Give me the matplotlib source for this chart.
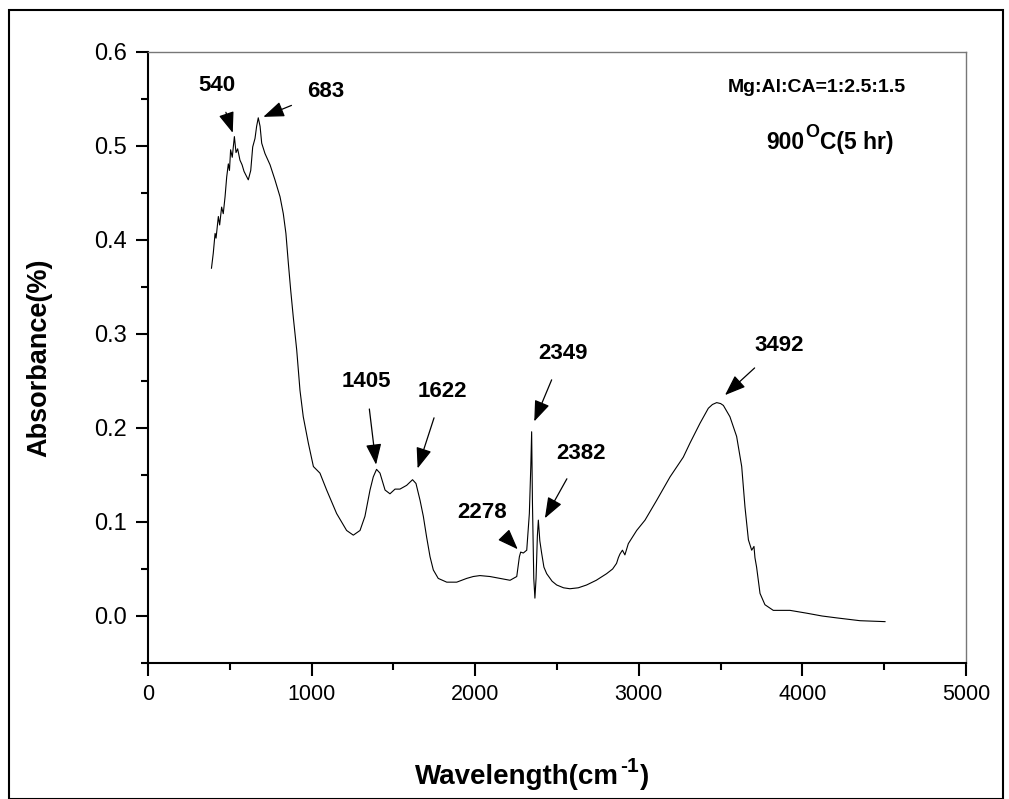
import matplotlib
matplotlib.use("Agg")
import matplotlib.pyplot as plt
from matplotlib.ticker import MultipleLocator, FormatStrFormatter
from matplotlib.patches import Rectangle

plt.rcParams['font.family'] = ['Liberation Sans', 'DejaVu Sans']
plt.rcParams['mathtext.fontset'] = 'custom'
plt.rcParams['mathtext.rm'] = 'Liberation Sans:bold'
plt.rcParams['mathtext.bf'] = 'Liberation Sans:bold'

# Spectrum (wavenumber, absorbance)
wavenumber = [388, 399, 410, 416, 430, 438, 450, 460, 471, 481, 491, 498, 505, 515, 528,
              538, 548, 562, 575, 587, 613, 628, 640, 654, 664, 674, 685, 695, 715, 746,
              776, 807, 827, 843, 858, 872, 888, 909, 929, 949, 980, 1011, 1051, 1092,
              1153, 1214, 1255, 1296, 1326, 1357, 1377, 1397, 1418, 1449, 1479, 1510,
              1540, 1560, 1581, 1617, 1638, 1663, 1683, 1703, 1724, 1744, 1774, 1826,
              1887, 1948, 1988, 2029, 2090, 2150, 2213, 2254, 2270, 2278, 2294, 2315,
              2331, 2340, 2345, 2350, 2358, 2365, 2372, 2380, 2386, 2395, 2406, 2420,
              2437, 2470, 2498, 2540, 2579, 2630, 2681, 2740, 2803, 2840, 2864, 2875,
              2885, 2900, 2915, 2936, 2987, 3038, 3109, 3191, 3272, 3313, 3374, 3425,
              3450, 3476, 3500, 3517, 3557, 3598, 3629, 3649, 3670, 3690, 3704, 3710,
              3720, 3741, 3771, 3822, 3880, 3924, 4026, 4120, 4209, 4352, 4505]
absorbance = [0.370, 0.386, 0.407, 0.402, 0.425, 0.416, 0.435, 0.428, 0.446, 0.467, 0.481,
              0.474, 0.496, 0.488, 0.510, 0.493, 0.497, 0.485, 0.480, 0.473, 0.464, 0.474,
              0.499, 0.508, 0.521, 0.530, 0.521, 0.503, 0.492, 0.480, 0.464, 0.446, 0.428,
              0.407, 0.375, 0.347, 0.318, 0.283, 0.240, 0.212, 0.184, 0.159, 0.152, 0.134,
              0.109, 0.091, 0.086, 0.091, 0.106, 0.134, 0.148, 0.156, 0.152, 0.134, 0.130,
              0.135, 0.135, 0.137, 0.139, 0.145, 0.141, 0.123, 0.106, 0.084, 0.063, 0.049,
              0.040, 0.036, 0.036, 0.040, 0.042, 0.043, 0.042, 0.040, 0.038, 0.042, 0.063,
              0.068, 0.067, 0.070, 0.109, 0.160, 0.196, 0.120, 0.040, 0.019, 0.040, 0.085,
              0.102, 0.080, 0.067, 0.052, 0.045, 0.037, 0.033, 0.030, 0.029, 0.030, 0.033,
              0.038, 0.045, 0.050, 0.056, 0.062, 0.066, 0.070, 0.065, 0.077, 0.091, 0.102,
              0.123, 0.148, 0.169, 0.184, 0.205, 0.221, 0.225, 0.227, 0.226, 0.224, 0.212,
              0.191, 0.159, 0.116, 0.081, 0.070, 0.074, 0.062, 0.052, 0.024, 0.012, 0.006,
              0.006, 0.006, 0.003, 0.000, -0.002, -0.005, -0.006]

# Peak annotations: label, text position, arrow tip
peak_labels = ['540', '683', '1405', '1622', '2278', '2349', '2382', '3492']
label_xy = [(422, 0.564), (1086, 0.558), (1333, 0.249), (1801, 0.239),
            (2043, 0.110), (2534, 0.279), (2647, 0.173), (3859, 0.288)]
arrow_tip = [(518, 0.514), (705, 0.531), (1394, 0.161), (1648, 0.157),
             (2260, 0.071), (2361, 0.207), (2426, 0.104), (3527, 0.235)]

W, H = 1009, 799
fig = plt.figure(figsize=(W / 100, H / 100), dpi=100)
fig.patches.append(Rectangle((9 / W, 0.0), 994 / W, 1 - 10 / H, transform=fig.transFigure,
                             fill=False, edgecolor='black', linewidth=1.5))
ax = fig.add_axes([148 / W, 1 - 663 / H, 818 / W, 611 / H])

ax.plot(wavenumber, absorbance, color='black', linewidth=0.8)

ax.set_xlim(0, 5000)
ax.set_ylim(-0.05, 0.6)
ax.xaxis.set_major_locator(MultipleLocator(1000))
ax.xaxis.set_minor_locator(MultipleLocator(500))
ax.yaxis.set_major_locator(MultipleLocator(0.1))
ax.yaxis.set_minor_locator(MultipleLocator(0.05))
ax.yaxis.set_major_formatter(FormatStrFormatter('%.1f'))

for side in ['left', 'bottom']:
    ax.spines[side].set_linewidth(1.5)
for side in ['top', 'right']:
    ax.spines[side].set_linewidth(1.0)
    ax.spines[side].set_color('#777777')
ax.tick_params(which='major', direction='out', length=9, width=1.5, pad=6)
ax.tick_params(which='minor', direction='out', length=5, width=1.5)
ax.tick_params(top=False, right=False, which='both')
for t in ax.get_yticklabels():
    t.set_fontsize(17)
for t in ax.get_xticklabels():
    t.set_fontsize(15.5)

ax.set_ylabel('Absorbance(%)', fontsize=19.5, fontweight='bold', labelpad=30)

# x-axis label built from pieces: plain hyphen in the superscript, as in the original
t1 = fig.text(415 / W, 1 - 784 / H, 'Wavelength(cm', fontsize=20, fontweight='bold',
              ha='left', va='baseline')
sup = ax.annotate('-1', xy=(1, 1), xycoords=t1, xytext=(1, -2), textcoords='offset points',
                  fontsize=15, fontweight='bold', ha='left', va='center',
                  annotation_clip=False)
ax.annotate(')', xy=(1, 0), xycoords=(sup, t1), xytext=(0.5, 0), textcoords='offset points',
            fontsize=20, fontweight='bold', ha='left', va='bottom', annotation_clip=False)

for lab, (tx, ty), (px, py) in zip(peak_labels, label_xy, arrow_tip):
    ax.annotate(lab, xy=(px, py), xytext=(tx, ty), fontsize=16, fontweight='bold',
                ha='center', va='center',
                arrowprops=dict(arrowstyle='-|>,head_length=0.8,head_width=0.3',
                                color='black', lw=0.9, shrinkA=10, shrinkB=0))

ax.text(4089, 0.562, 'Mg:Al:CA=1:2.5:1.5', fontsize=14, fontweight='bold',
        ha='center', va='center')
t9 = ax.text(3778, 0.497, '900', fontsize=16.5, fontweight='bold', ha='left', va='baseline')
so = ax.annotate('O', xy=(1, 1), xycoords=t9, xytext=(0.5, -1), textcoords='offset points',
                 fontsize=13, fontweight='bold', ha='left', va='center')
ax.annotate('C(5 hr)', xy=(1, 0), xycoords=(so, t9), xytext=(0.5, 0),
            textcoords='offset points', fontsize=16.5, fontweight='bold',
            ha='left', va='bottom')

fig.savefig('out.png', dpi=100)
